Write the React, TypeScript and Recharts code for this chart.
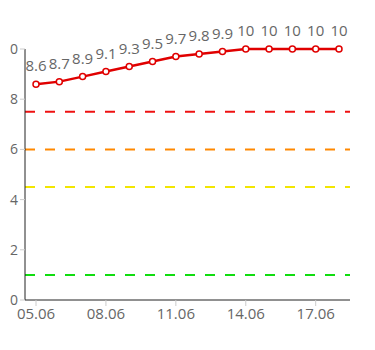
import { LineChart, Line, XAxis, YAxis, ReferenceLine, LabelList } from "recharts";

const dates = [
  "05.06", "06.06", "07.06", "08.06", "09.06", "10.06", "11.06",
  "12.06", "13.06", "14.06", "15.06", "16.06", "17.06", "18.06",
];
const scores = [8.6, 8.7, 8.9, 9.1, 9.3, 9.5, 9.7, 9.8, 9.9, 10, 10, 10, 10, 10];
const yTicks = [0, 2, 4, 6, 8, 10];
const thresholds = [
  { y: 7.5, color: "#ee1111" },
  { y: 6, color: "#ff8800" },
  { y: 4.5, color: "#f2e600" },
  { y: 1, color: "#11dd11" },
];

const data = dates.map((d, i) => ({ date: d, score: scores[i] }));

const font = "'Open Sans', sans-serif";

// plain text tick, kept tight to the left edge like the original
const YTick = (props: any) => {
  const { x, y, payload } = props;
  return (
    <text x={x} y={y} dy={5} textAnchor="end" fontSize={14} fill="#666" fontFamily={font}>
      {payload.value}
    </text>
  );
};

export default function App() {
  return (
    <div style={{ margin: -8, fontFamily: font }}>
      <LineChart width={375} height={350} data={data} margin={{ top: 49, right: 25, bottom: 0, left: 0 }}>
        <XAxis
          dataKey="date"
          interval={2}
          height={50}
          padding={{ left: 11, right: 11 }}
          stroke="#222"
          tickLine={{ stroke: "#ccc" }}
          tickSize={6}
          tickMargin={2}
          tick={{ fontSize: 15, fill: "#666", fontFamily: font }}
        />
        <YAxis
          domain={[0, 10]}
          ticks={yTicks}
          width={25}
          stroke="#222"
          tickLine={{ stroke: "#ccc" }}
          tickSize={5}
          tickMargin={2}
          tick={<YTick />}
        />
        {thresholds.map((t) => (
          <ReferenceLine key={t.y} y={t.y} stroke={t.color} strokeWidth={2} strokeDasharray="10 10" />
        ))}
        <Line
          type="linear"
          dataKey="score"
          stroke="#e00000"
          strokeWidth={2.5}
          dot={{ r: 3, fill: "#fff", stroke: "#e00000", strokeWidth: 1.5 }}
          isAnimationActive={false}
        >
          <LabelList dataKey="score" position="top" offset={13} style={{ fontSize: 15, fill: "#666", fontFamily: font }} />
        </Line>
      </LineChart>
    </div>
  );
}
